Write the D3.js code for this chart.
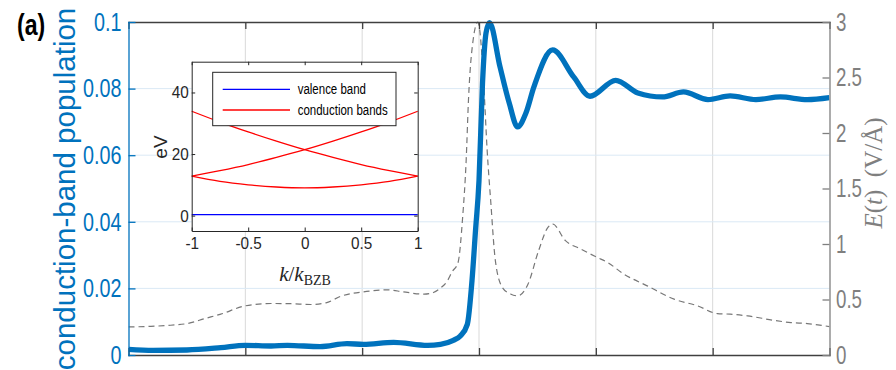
<!DOCTYPE html>
<html lang="en">
<head>
<meta charset="UTF-8">
<script src="https://cdn.jsdelivr.net/npm/d3@7"></script>
<style>
  body { margin: 0; background: #fff; }
  svg { display: block; }
</style>
</head>
<body>
<script>
// Main panel data: time axis in tick units (no tick labels on the original)
var timeTicks = [0, 1, 2, 3, 4, 5, 6];

var popTime = [0, 0.21, 0.5, 0.79, 1.0, 1.22, 1.36, 1.64, 1.87, 2.01, 2.27, 2.56, 2.67, 2.78, 2.84, 2.9, 2.94, 2.97, 3.0, 3.03, 3.06, 3.09, 3.18, 3.26, 3.33, 3.4, 3.47, 3.63, 3.81, 3.95, 4.17, 4.36, 4.57, 4.75, 4.96, 5.15, 5.37, 5.58, 5.81, 6.0];
var popValues = [0.0017, 0.0014, 0.0015, 0.0022, 0.0029, 0.0027, 0.0029, 0.0025, 0.0034, 0.0032, 0.0038, 0.0029, 0.0032, 0.0044, 0.0057, 0.0092, 0.0223, 0.0373, 0.0524, 0.0816, 0.0967, 0.0998, 0.0865, 0.0755, 0.0685, 0.0725, 0.0805, 0.0916, 0.0835, 0.0777, 0.0825, 0.0787, 0.0775, 0.079, 0.0767, 0.0778, 0.0767, 0.0775, 0.0767, 0.0773];

var fieldTime = [0, 0.19, 0.36, 0.5, 0.66, 0.79, 1.0, 1.22, 1.39, 1.56, 1.69, 1.82, 2.01, 2.22, 2.35, 2.53, 2.61, 2.67, 2.73, 2.77, 2.82, 2.86, 2.89, 2.91, 2.95, 2.99, 3.0, 3.04, 3.07, 3.1, 3.14, 3.2, 3.27, 3.33, 3.42, 3.51, 3.59, 3.63, 3.74, 3.87, 4.01, 4.1, 4.24, 4.44, 4.67, 4.87, 5.04, 5.15, 5.3, 5.52, 5.67, 5.81, 6.0];
var fieldValues = [0.253, 0.258, 0.268, 0.283, 0.33, 0.368, 0.443, 0.464, 0.462, 0.455, 0.47, 0.53, 0.569, 0.587, 0.569, 0.548, 0.563, 0.603, 0.669, 0.75, 0.83, 1.24, 1.75, 2.3, 2.84, 3.0, 2.97, 2.45, 1.84, 1.39, 0.85, 0.608, 0.55, 0.533, 0.64, 0.94, 1.15, 1.18, 1.03, 0.955, 0.88, 0.834, 0.729, 0.623, 0.503, 0.443, 0.373, 0.368, 0.352, 0.313, 0.292, 0.283, 0.256];

var popTicks = [0, 0.02, 0.04, 0.06, 0.08, 0.1];
var popTickLabels = ["0", "0.02", "0.04", "0.06", "0.08", "0.1"];
var fieldTicks = [0, 0.5, 1, 1.5, 2, 2.5, 3];
var fieldTickLabels = ["0", "0.5", "1", "1.5", "2", "2.5", "3"];

// Inset: band structure
var kPoints = [-1, -0.75, -0.5, -0.25, 0, 0.25, 0.5, 0.75, 1];
var valenceBand = [0.3, 0.3, 0.3, 0.3, 0.3, 0.3, 0.3, 0.3, 0.3];
var lowerBand = [12.8, 11.1, 10.0, 9.3, 9.0, 9.3, 10.0, 11.1, 12.8];
var risingBand = [12.8, 14.6, 16.6, 18.9, 21.4, 24.2, 27.2, 30.4, 33.9];
var fallingBand = [33.9, 30.4, 27.2, 24.2, 21.4, 18.9, 16.6, 14.6, 12.8];
var kTicks = [-1, -0.5, 0, 0.5, 1];
var kTickLabels = ["-1", "-0.5", "0", "0.5", "1"];
var eTicks = [0, 20, 40];
var legendLabels = ["valence band", "conduction bands"];

var W = 896, H = 370;
var plot = { left: 128.5, right: 829.5, top: 22, bottom: 355 };
var blue = "#0072BD", gray = "#7f7f7f", dark = "#404040";

var svg = d3.select("body").append("svg")
    .attr("width", W)
    .attr("height", H)
    .style("font-family", "'Liberation Sans', Arial, sans-serif");

// Scales
var x = d3.scaleLinear().domain([0, 6]).range([plot.left, plot.right]);
var yPop = d3.scaleLinear().domain([0, 0.1]).range([plot.bottom, plot.top]);
var yField = d3.scaleLinear().domain([0, 3]).range([plot.bottom, plot.top]);

// narrow text like the exported figure
function squish(sel, sx) {
    sel.each(function() {
        var t = d3.select(this);
        var tx = +t.attr("x") || 0;
        t.attr("x", tx / sx).attr("transform", "scale(" + sx + ",1)");
    });
}

// Grid
svg.append("g").selectAll("line")
    .data(timeTicks.slice(1, -1))
    .enter().append("line")
    .attr("x1", function(d) { return x(d); })
    .attr("x2", function(d) { return x(d); })
    .attr("y1", plot.top).attr("y2", plot.bottom)
    .attr("stroke", "#d9d9d9").attr("stroke-width", 1);

svg.append("g").selectAll("line")
    .data(popTicks.slice(1, -1))
    .enter().append("line")
    .attr("x1", plot.left).attr("x2", plot.right)
    .attr("y1", function(d) { return yPop(d); })
    .attr("y2", function(d) { return yPop(d); })
    .attr("stroke", "#dbe9f5").attr("stroke-width", 1);

// Lines
var clip = svg.append("clipPath").attr("id", "plotclip")
    .append("rect")
    .attr("x", plot.left).attr("y", plot.top - 3)
    .attr("width", plot.right - plot.left).attr("height", plot.bottom - plot.top + 3);

var fieldLine = d3.line()
    .x(function(d, i) { return x(fieldTime[i]); })
    .y(function(d) { return yField(d); })
    .curve(d3.curveMonotoneX);

svg.append("path")
    .attr("clip-path", "url(#plotclip)")
    .attr("d", fieldLine(fieldValues))
    .attr("fill", "none")
    .attr("stroke", "#777")
    .attr("stroke-width", 1.2)
    .attr("stroke-dasharray", "6,4");

var popLine = d3.line()
    .x(function(d, i) { return x(popTime[i]); })
    .y(function(d) { return yPop(d); })
    .curve(d3.curveMonotoneX);

svg.append("path")
    .attr("clip-path", "url(#plotclip)")
    .attr("d", popLine(popValues))
    .attr("fill", "none")
    .attr("stroke", blue)
    .attr("stroke-width", 5.3)
    .attr("stroke-linejoin", "round");

// Axes (ticks point inward)
var bottomAxis = svg.append("g")
    .attr("transform", "translate(0," + plot.bottom + ")")
    .call(d3.axisBottom(x).tickValues(timeTicks).tickSize(-7).tickSizeOuter(0).tickFormat(""));
var topAxis = svg.append("g")
    .attr("transform", "translate(0," + plot.top + ")")
    .call(d3.axisTop(x).tickValues(timeTicks).tickSize(-7).tickSizeOuter(0).tickFormat(""));
[bottomAxis, topAxis].forEach(function(a) {
    a.selectAll("path, line").attr("stroke", dark).attr("stroke-width", 1.3);
});

var leftAxis = svg.append("g")
    .attr("transform", "translate(" + plot.left + ",0)")
    .call(d3.axisLeft(yPop).tickValues(popTicks).tickSize(-7).tickSizeOuter(0).tickPadding(7)
        .tickFormat(function(d, i) { return popTickLabels[i]; }));
leftAxis.selectAll("path, line").attr("stroke", blue).attr("stroke-width", 1.3);
leftAxis.selectAll("text")
    .attr("fill", blue)
    .style("font-size", "26px")
    .call(squish, 0.76);

var rightAxis = svg.append("g")
    .attr("transform", "translate(" + plot.right + ",0)")
    .call(d3.axisRight(yField).tickValues(fieldTicks).tickSize(-7).tickSizeOuter(0).tickPadding(6.5)
        .tickFormat(function(d, i) { return fieldTickLabels[i]; }));
rightAxis.selectAll("path, line").attr("stroke", gray).attr("stroke-width", 1.3);
rightAxis.selectAll("text")
    .attr("fill", gray)
    .style("font-size", "26px")
    .call(squish, 0.72);
svg.selectAll(".domain").attr("stroke-linecap", "square");

// Axis titles
svg.append("text")
    .attr("transform", "translate(75,189) rotate(-90)")
    .attr("text-anchor", "middle")
    .attr("fill", blue)
    .style("font-size", "29.5px")
    .text("conduction-band population");

var eLabel = svg.append("text")
    .attr("transform", "translate(882,173) rotate(-90)")
    .attr("text-anchor", "middle")
    .attr("fill", gray)
    .style("font-family", "'Liberation Serif', 'DejaVu Serif', serif")
    .style("font-size", "25px");
eLabel.append("tspan").style("font-style", "italic").text("E");
eLabel.append("tspan").text("(");
eLabel.append("tspan").style("font-style", "italic").text("t");
eLabel.append("tspan").text(")\u2002(V/\u00C5)");

var panel = svg.append("text")
    .attr("x", 17).attr("y", 35.5)
    .style("font-size", "30px")
    .style("font-weight", "bold")
    .attr("fill", "#000")
    .text("(a)");
panel.call(squish, 0.77);

// Inset
var inset = { left: 191.7, right: 417.7, top: 61.7, bottom: 231 };
var kx = d3.scaleLinear().domain([-1, 1]).range([inset.left, inset.right]);
var ey = d3.scaleLinear().domain([-5, 50]).range([inset.bottom, inset.top]);

svg.append("rect")
    .attr("x", inset.left).attr("y", inset.top)
    .attr("width", inset.right - inset.left).attr("height", inset.bottom - inset.top)
    .attr("fill", "#fff");

var bandLine = d3.line()
    .x(function(d, i) { return kx(kPoints[i]); })
    .y(function(d) { return ey(d); })
    .curve(d3.curveCatmullRom);

svg.append("path").attr("d", bandLine(valenceBand))
    .attr("fill", "none").attr("stroke", "#0000ff").attr("stroke-width", 1.3);
[lowerBand, risingBand, fallingBand].forEach(function(b) {
    svg.append("path").attr("d", bandLine(b))
        .attr("fill", "none").attr("stroke", "#ff0000").attr("stroke-width", 1.3);
});

var ib = svg.append("g")
    .attr("transform", "translate(0," + inset.bottom + ")")
    .call(d3.axisBottom(kx).tickValues(kTicks).tickSize(-3.5).tickSizeOuter(0).tickPadding(6)
        .tickFormat(function(d, i) { return kTickLabels[i]; }));
var it = svg.append("g")
    .attr("transform", "translate(0," + inset.top + ")")
    .call(d3.axisTop(kx).tickValues(kTicks).tickSize(-3.5).tickSizeOuter(0).tickFormat(""));
var il = svg.append("g")
    .attr("transform", "translate(" + inset.left + ",0)")
    .call(d3.axisLeft(ey).tickValues(eTicks).tickSize(-3.5).tickSizeOuter(0).tickPadding(3));
var ir = svg.append("g")
    .attr("transform", "translate(" + inset.right + ",0)")
    .call(d3.axisRight(ey).tickValues(eTicks).tickSize(-3.5).tickSizeOuter(0).tickFormat(""));
[ib, it, il, ir].forEach(function(a) {
    a.selectAll("path, line").attr("stroke", "#262626").attr("stroke-width", 1);
    a.selectAll("text").attr("fill", "#262626").style("font-size", "17px").call(squish, 0.9);
});

svg.append("text")
    .attr("transform", "translate(167,147) rotate(-90)")
    .attr("text-anchor", "middle")
    .attr("fill", "#262626")
    .style("font-size", "19px")
    .text("eV");

var kLabel = svg.append("text")
    .attr("x", 305).attr("y", 281)
    .attr("text-anchor", "middle")
    .attr("fill", "#262626")
    .style("font-family", "'Liberation Serif', 'DejaVu Serif', serif")
    .style("font-size", "21px");
kLabel.append("tspan").style("font-style", "italic").text("k");
kLabel.append("tspan").text("/");
kLabel.append("tspan").style("font-style", "italic").text("k");
kLabel.append("tspan").attr("dy", 4).style("font-size", "14px").text("BZB");

// Legend
var legend = svg.append("g");
legend.append("rect")
    .attr("x", 212.7).attr("y", 72.3)
    .attr("width", 183.3).attr("height", 53.4)
    .attr("fill", "#fff").attr("stroke", "#262626").attr("stroke-width", 1);
var legendColors = ["#0000ff", "#ff0000"];
legendLabels.forEach(function(lab, i) {
    var ly = 89.3 + i * 20.7;
    legend.append("line")
        .attr("x1", 222.7).attr("x2", 290)
        .attr("y1", ly).attr("y2", ly)
        .attr("stroke", legendColors[i]).attr("stroke-width", 1.3);
    legend.append("text")
        .attr("x", 297.7).attr("y", ly).attr("dy", "0.35em")
        .attr("fill", "#000")
        .style("font-size", "14px")
        .text(lab)
        .call(squish, 0.82);
});
</script>
</body>
</html>
